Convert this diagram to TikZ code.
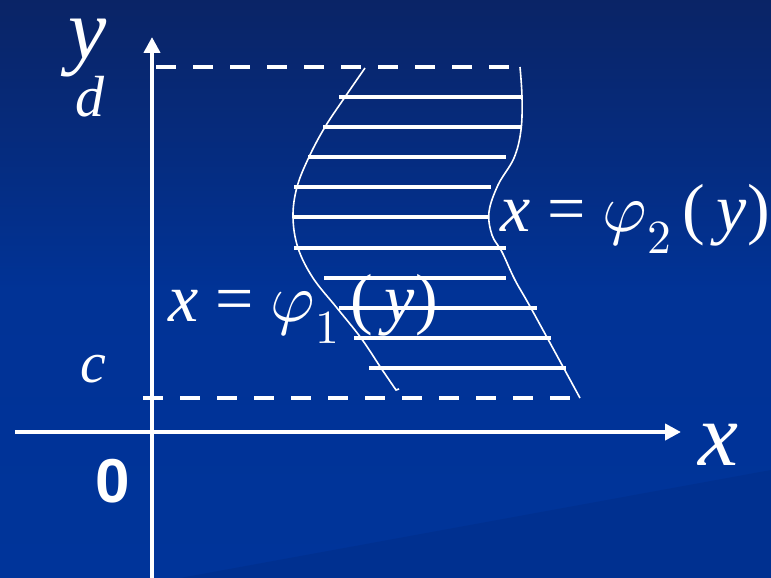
\documentclass[tikz,border=0pt]{standalone}
\usepackage{fontspec}
\setmainfont{Liberation Serif}
\newfontfamily\sansfam{Liberation Sans}
\DeclareFontShape{OML}{cmm}{m}{it}{<->s*cmmi10}{}
\DeclareFontShape{OT1}{cmr}{m}{n}{<->s*cmr10}{}
\usetikzlibrary{arrows.meta}
\definecolor{bgtop}{RGB}{10,36,102}
\definecolor{bgbot}{RGB}{0,52,154}
\tikzset{
  axisline/.style={draw=white,line width=4pt,-{Triangle[length=16pt,width=16pt]}},
  dashline/.style={draw=white,line width=4pt,dash pattern=on 20pt off 17pt},
  hatch/.style={draw=white,line width=4pt},
  boundary/.style={draw=white,line width=1.6pt},
  lab/.style={text=white,inner sep=0pt,anchor=base west},
}
\begin{document}
\begin{tikzpicture}[x=1pt,y=-1pt]
\shade[top color=bgtop,bottom color=bgbot,middle color=bgbot!92!bgtop] (0,0) rectangle (771,578);
\useasboundingbox (0,0) rectangle (771,578);
\fill[black,opacity=0.06] (180,578) -- (771,470) -- (771,578) -- cycle;
% axes
\coordinate (yb) at (152,578);
\coordinate (yt) at (152,37);
\coordinate (xl) at (15,432);
\coordinate (xr) at (681,432);
\draw[axisline] (yb) -- (yt);
\draw[axisline] (xl) -- (xr);
% dashed levels
\coordinate (dl) at (156,67);
\coordinate (dr) at (521,67);
\coordinate (cl) at (143,398);
\coordinate (cr) at (581,398);
\draw[dashline] (dl) -- (dr);
\draw[dashline] (cl) -- (cr);
% labels (behind hatching)
\node[lab,font=\fontsize{68}{68}\selectfont] (phione) at (168,321) {\textit{x} = $\varphi_1$\,(\,\textit{y})};
\node[lab,font=\fontsize{68}{68}\selectfont] (phitwo) at (500,231) {\textit{x} = $\varphi_2$\,(\,\textit{y})};
% hatching
\foreach \yy/\xa/\xb in {97/339/521,127/323/521,157/308/506,187/294/491,217/294/489,248/294/506,278/324/506,308/339/537,338/354/551,368/369/566}
  \draw[hatch] (\xa,\yy) -- (\xb,\yy);
% boundaries
\draw[boundary] plot[smooth,tension=0.6] coordinates {(365,68) (345,97) (325,127) (309,157) (297,187) (293,217) (298,248) (313,278) (337,308) (361,338) (381,368) (396,390)} -- (399,389);
\draw[boundary] plot[smooth,tension=0.6] coordinates {(520,67) (522,97) (521,130) (514,158) (498,185) (489,212) (492,235) (502,252) (515,280) (532,310) (580,398)};
% axis labels
\node[lab,font=\fontsize{86}{86}\selectfont,text height=40pt] (ylab) at (68,59) {\textit{y}};
\node[lab,font=\fontsize{90}{90}\selectfont] (xlab) at (698,465) {\textit{x}};
\node[lab,font=\fontsize{58}{58}\selectfont] (dlab) at (75,116) {\textit{d}};
\node[lab,font=\fontsize{58}{58}\selectfont] (clab) at (80,382) {\textit{c}};
\node[lab,font=\sansfam\bfseries\fontsize{62}{62}\selectfont] (zero) at (95,502) {0};
\end{tikzpicture}
\end{document}
